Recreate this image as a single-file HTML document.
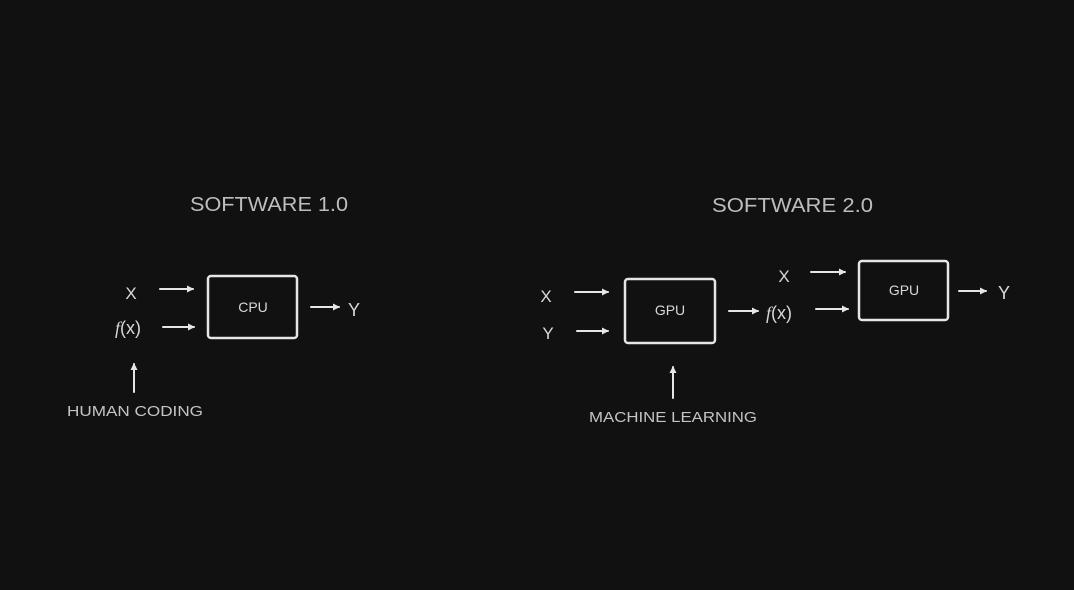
<!DOCTYPE html>
<html><head><meta charset="utf-8"><style>
html,body{margin:0;padding:0;background:#111111;}
svg{display:block}
text{font-family:"Liberation Sans",sans-serif;fill:#d8d8d8}
</style></head><body>
<svg width="1074" height="590" viewBox="0 0 1074 590">
<defs><marker id="a" markerWidth="8" markerHeight="8" refX="6" refY="4" orient="auto" markerUnits="userSpaceOnUse"><path d="M0,0.5 L7,4 L0,7.5 z" fill="#e6e6e6"/></marker></defs>
<rect width="1074" height="590" fill="#111"/>
<g stroke="#e6e6e6" stroke-width="2" fill="none" stroke-linecap="round">
<line x1="160" y1="289" x2="193" y2="289" marker-end="url(#a)"/>
<line x1="163" y1="327" x2="194" y2="327" marker-end="url(#a)"/>
<rect x="208" y="276" width="89" height="62" rx="3" stroke-width="2.5"/>
<line x1="311" y1="307" x2="339" y2="307" marker-end="url(#a)"/>
<line x1="134" y1="392" x2="134" y2="364" marker-end="url(#a)"/>
<line x1="575" y1="292" x2="608" y2="292" marker-end="url(#a)"/>
<line x1="577" y1="331" x2="608" y2="331" marker-end="url(#a)"/>
<rect x="625" y="279" width="90" height="64" rx="3" stroke-width="2.5"/>
<line x1="729" y1="311" x2="758" y2="311" marker-end="url(#a)"/>
<line x1="811" y1="272" x2="845" y2="272" marker-end="url(#a)"/>
<line x1="816" y1="309" x2="848" y2="309" marker-end="url(#a)"/>
<rect x="859" y="261" width="89" height="59" rx="3" stroke-width="2.5"/>
<line x1="959" y1="291" x2="986" y2="291" marker-end="url(#a)"/>
<line x1="673" y1="398" x2="673" y2="367" marker-end="url(#a)"/>
</g>
<g style="fill:#bdbdbd">
<text x="190" y="211" font-size="20" textLength="158" lengthAdjust="spacingAndGlyphs" style="fill:#bdbdbd">SOFTWARE 1.0</text>
<text x="712" y="212" font-size="20" textLength="161" lengthAdjust="spacingAndGlyphs" style="fill:#bdbdbd">SOFTWARE 2.0</text>
</g>
<text x="131" y="299" font-size="17" text-anchor="middle">X</text>
<text x="115" y="334" font-size="18"><tspan font-style="italic" font-family="Liberation Serif">f</tspan>(x)</text>
<text x="253" y="312" font-size="14" text-anchor="middle">CPU</text>
<text x="354" y="316" font-size="18" text-anchor="middle">Y</text>
<text x="67" y="416" font-size="15" textLength="136" lengthAdjust="spacingAndGlyphs" style="fill:#c4c4c4">HUMAN CODING</text>
<text x="546" y="302" font-size="17" text-anchor="middle">X</text>
<text x="548" y="339" font-size="17" text-anchor="middle">Y</text>
<text x="670" y="315" font-size="14" text-anchor="middle">GPU</text>
<text x="766" y="319" font-size="18"><tspan font-style="italic" font-family="Liberation Serif">f</tspan>(x)</text>
<text x="784" y="282" font-size="17" text-anchor="middle">X</text>
<text x="904" y="295" font-size="14" text-anchor="middle">GPU</text>
<text x="1004" y="299" font-size="18" text-anchor="middle">Y</text>
<text x="589" y="422" font-size="15" textLength="168" lengthAdjust="spacingAndGlyphs" style="fill:#c4c4c4">MACHINE LEARNING</text>
</svg>
</body></html>
